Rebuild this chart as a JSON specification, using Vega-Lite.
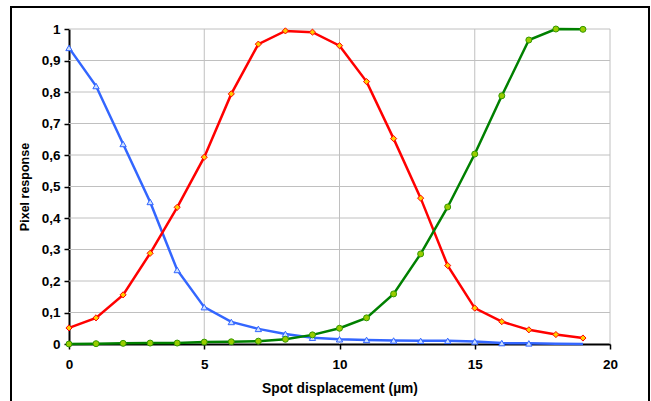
{
  "$schema": "https://vega.github.io/schema/vega-lite/v6.json",
  "width": 638,
  "height": 420,
  "autosize": {"type": "none"},
  "padding": {"left": 11, "top": 7, "right": 2, "bottom": 0},
  "background": "white",
  "config": {
    "view": {"stroke": "black", "strokeWidth": 2},
    "font": "Liberation Sans",
    "axis": {
      "labelFont": "Liberation Sans",
      "labelFontWeight": "bold",
      "labelFontSize": 13.5,
      "labelColor": "black",
      "titleFont": "Liberation Sans",
      "titleFontWeight": "bold",
      "titleColor": "black",
      "domainColor": "black",
      "domainWidth": 2,
      "tickColor": "black",
      "tickWidth": 1.5,
      "grid": false,
      "labelFlush": false
    }
  },
  "datasets": {
    "series": [
      {"x": 0, "v": 0.94, "s": "A"}, {"x": 1, "v": 0.819, "s": "A"}, {"x": 2, "v": 0.635, "s": "A"}, {"x": 3, "v": 0.451, "s": "A"}, {"x": 4, "v": 0.235, "s": "A"}, {"x": 5, "v": 0.117, "s": "A"}, {"x": 6, "v": 0.07, "s": "A"}, {"x": 7, "v": 0.048, "s": "A"}, {"x": 8, "v": 0.032, "s": "A"}, {"x": 9, "v": 0.02, "s": "A"}, {"x": 10, "v": 0.015, "s": "A"}, {"x": 11, "v": 0.013, "s": "A"}, {"x": 12, "v": 0.011, "s": "A"}, {"x": 13, "v": 0.01, "s": "A"}, {"x": 14, "v": 0.01, "s": "A"}, {"x": 15, "v": 0.008, "s": "A"}, {"x": 16, "v": 0.003, "s": "A"}, {"x": 17, "v": 0.002, "s": "A"}, {"x": 18, "v": 0.001, "s": "A"}, {"x": 19, "v": 0.0, "s": "A"},
      {"x": 0, "v": 0.051, "s": "B"}, {"x": 1, "v": 0.083, "s": "B"}, {"x": 2, "v": 0.156, "s": "B"}, {"x": 3, "v": 0.288, "s": "B"}, {"x": 4, "v": 0.434, "s": "B"}, {"x": 5, "v": 0.593, "s": "B"}, {"x": 6, "v": 0.794, "s": "B"}, {"x": 7, "v": 0.952, "s": "B"}, {"x": 8, "v": 0.994, "s": "B"}, {"x": 9, "v": 0.99, "s": "B"}, {"x": 10, "v": 0.947, "s": "B"}, {"x": 11, "v": 0.833, "s": "B"}, {"x": 12, "v": 0.652, "s": "B"}, {"x": 13, "v": 0.463, "s": "B"}, {"x": 14, "v": 0.249, "s": "B"}, {"x": 15, "v": 0.114, "s": "B"}, {"x": 16, "v": 0.071, "s": "B"}, {"x": 17, "v": 0.045, "s": "B"}, {"x": 18, "v": 0.03, "s": "B"}, {"x": 19, "v": 0.019, "s": "B"},
      {"x": 0, "v": 0.0, "s": "C"}, {"x": 1, "v": 0.001, "s": "C"}, {"x": 2, "v": 0.002, "s": "C"}, {"x": 3, "v": 0.003, "s": "C"}, {"x": 4, "v": 0.003, "s": "C"}, {"x": 5, "v": 0.006, "s": "C"}, {"x": 6, "v": 0.007, "s": "C"}, {"x": 7, "v": 0.009, "s": "C"}, {"x": 8, "v": 0.015, "s": "C"}, {"x": 9, "v": 0.029, "s": "C"}, {"x": 10, "v": 0.05, "s": "C"}, {"x": 11, "v": 0.083, "s": "C"}, {"x": 12, "v": 0.159, "s": "C"}, {"x": 13, "v": 0.286, "s": "C"}, {"x": 14, "v": 0.435, "s": "C"}, {"x": 15, "v": 0.603, "s": "C"}, {"x": 16, "v": 0.788, "s": "C"}, {"x": 17, "v": 0.965, "s": "C"}, {"x": 18, "v": 1.0, "s": "C"}, {"x": 19, "v": 0.999, "s": "C"}
    ],
    "xgrid": [{"g": 5}, {"g": 10}, {"g": 15}, {"g": 20}],
    "ygrid": [{"g": 0.1}, {"g": 0.2}, {"g": 0.3}, {"g": 0.4}, {"g": 0.5}, {"g": 0.6}, {"g": 0.7}, {"g": 0.8}, {"g": 0.9}, {"g": 1}]
  },
  "layer": [
    {
      "data": {"name": "xgrid"},
      "mark": {"type": "rule", "color": "#c0c0c0", "strokeWidth": 1},
      "encoding": {
        "x": {
          "field": "g", "type": "quantitative",
          "scale": {"domain": [0, 20], "range": [58, 599], "nice": false, "zero": false},
          "axis": {
            "title": "Spot displacement (µm)",
            "titleFontSize": 13.8,
            "values": [0, 5, 10, 15, 20],
            "offset": -83,
            "tickSize": 5,
            "labelPadding": 8,
            "titlePadding": 11
          }
        },
        "y": {
          "datum": 0, "type": "quantitative",
          "scale": {"domain": [0, 1], "range": [337, 22], "nice": false, "zero": false},
          "axis": {
            "title": "Pixel response",
            "titleFontSize": 12.5,
            "values": [0, 0.1, 0.2, 0.3, 0.4, 0.5, 0.6, 0.7, 0.8, 0.9, 1],
            "format": ".1~f",
            "labelExpr": "replace(datum.label, '.', ',')",
            "offset": -58,
            "tickSize": 5,
            "labelPadding": 4,
            "titlePadding": 10
          }
        },
        "y2": {"datum": 1}
      }
    },
    {
      "data": {"name": "ygrid"},
      "mark": {"type": "rule", "color": "#c0c0c0", "strokeWidth": 1},
      "encoding": {
        "y": {"field": "g", "type": "quantitative", "title": "Pixel response"},
        "x": {"datum": 0, "type": "quantitative", "title": "Spot displacement (µm)"},
        "x2": {"datum": 20}
      }
    },
    {
      "data": {"name": "series"},
      "mark": {"type": "line", "strokeWidth": 2.5},
      "encoding": {
        "x": {"field": "x", "type": "quantitative", "title": "Spot displacement (µm)"},
        "y": {"field": "v", "type": "quantitative", "title": "Pixel response"},
        "color": {
          "field": "s", "type": "nominal", "legend": null,
          "scale": {"domain": ["A", "B", "C"], "range": ["#3366FF", "#FF0000", "#008000"]}
        }
      }
    },
    {
      "data": {"name": "series"},
      "transform": [{"filter": "datum.s != 'A' || datum.x <= 17"}],
      "mark": {"type": "point", "filled": true, "strokeWidth": 1, "opacity": 1},
      "encoding": {
        "x": {"field": "x", "type": "quantitative", "title": "Spot displacement (µm)"},
        "y": {"field": "v", "type": "quantitative", "title": "Pixel response"},
        "shape": {
          "field": "s", "type": "nominal", "legend": null,
          "scale": {"domain": ["A", "B", "C"], "range": ["triangle-up", "diamond", "circle"]}
        },
        "fill": {
          "field": "s", "type": "nominal", "legend": null,
          "scale": {"domain": ["A", "B", "C"], "range": ["#CCE0FF", "#FFCC00", "#99CC00"]}
        },
        "stroke": {
          "field": "s", "type": "nominal", "legend": null,
          "scale": {"domain": ["A", "B", "C"], "range": ["#3366FF", "#FF0000", "#339900"]}
        },
        "size": {
          "field": "s", "type": "nominal", "legend": null,
          "scale": {"domain": ["A", "B", "C"], "range": [40, 36, 42]}
        }
      }
    }
  ]
}
